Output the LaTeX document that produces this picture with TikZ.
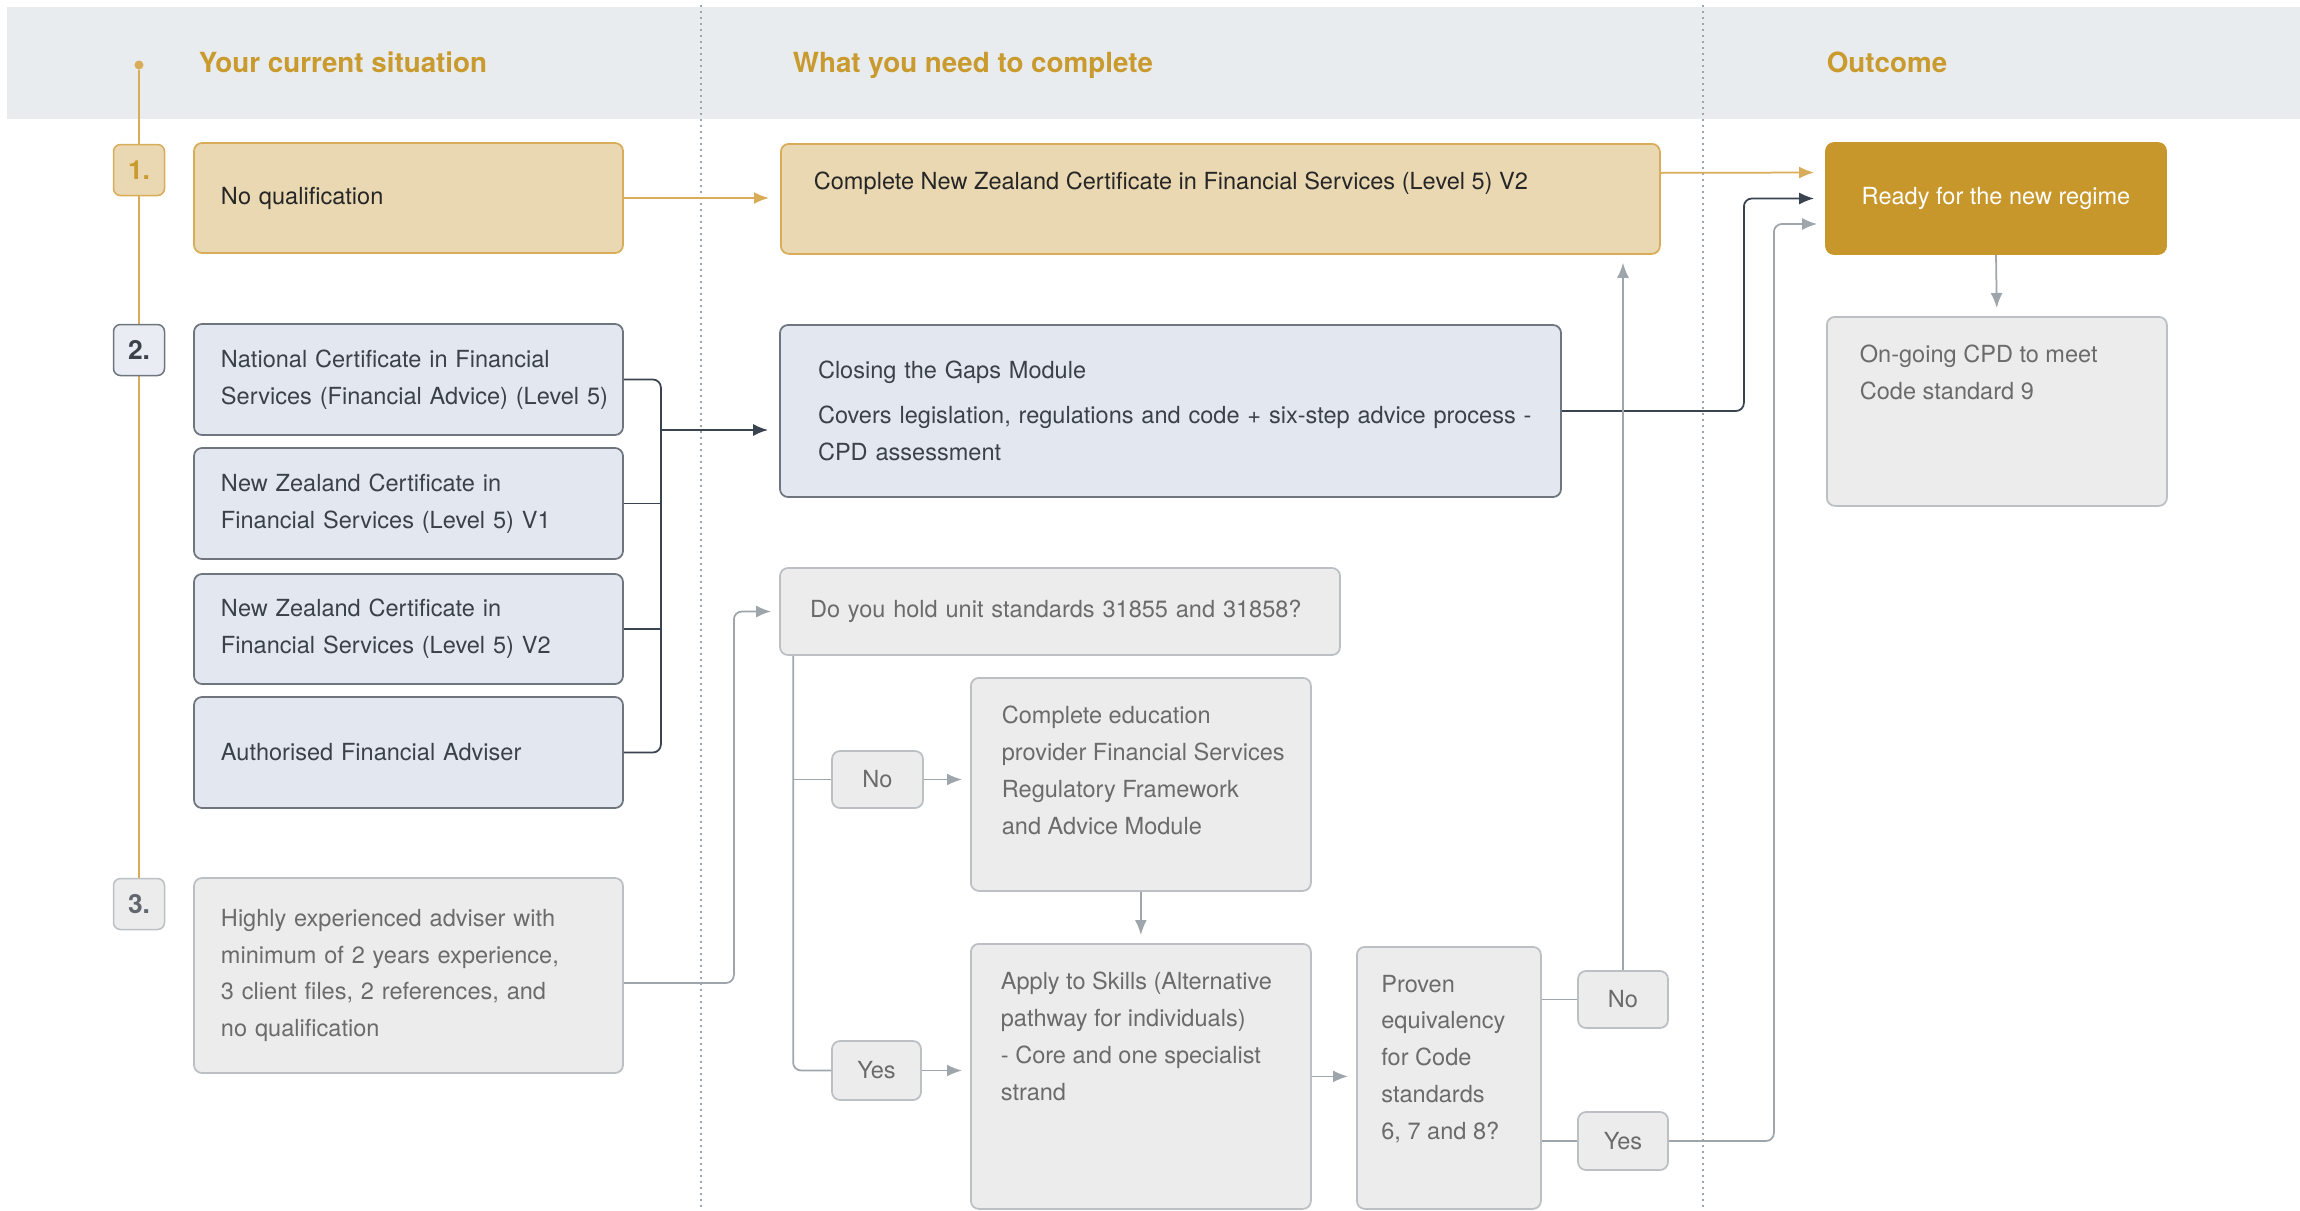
\documentclass[tikz,border=0pt]{standalone}
\usepackage{fontspec}
\setmainfont{TeX Gyre Heros}
\usetikzlibrary{arrows.meta}
\hyphenpenalty=10000

\definecolor{goldtxt}{HTML}{C99A2E}
\definecolor{goldfill}{HTML}{EAD8B2}
\definecolor{goldline}{HTML}{D8AC58}
\definecolor{golddark}{HTML}{C8972C}
\definecolor{bandgrey}{HTML}{E9ECEF}
\definecolor{bluefill}{HTML}{E3E7F0}
\definecolor{blueline}{HTML}{6F757E}
\definecolor{darktxt}{HTML}{3B414A}
\definecolor{greyfill}{HTML}{ECECEC}
\definecolor{greyline}{HTML}{BCBFC3}
\definecolor{greytxt}{HTML}{6B6B6B}
\definecolor{arrowgrey}{HTML}{9EA6AC}
\definecolor{arrowdark}{HTML}{3A4350}

\begin{document}
\begin{tikzpicture}[x=0.2mm, y=-0.2mm, line width=0.35mm,
font=\fontsize{13.4}{21}\selectfont,
box_style/.style={rounded corners=1.6mm, line width=0.35mm, align=left},
gold_box/.style={box_style, draw=goldline, fill=goldfill, text=black!85},
blue_box/.style={box_style, draw=blueline, fill=bluefill, text=darktxt},
grey_box/.style={box_style, draw=greyline, fill=greyfill, text=greytxt},
left_box/.style={text width=75mm, inner xsep=5.4mm, inner ysep=0mm},
top_box/.style={anchor=north west, inner ysep=5.6mm},
small_box/.style={grey_box, align=center, inner sep=0mm, minimum width=18mm, minimum height=11.6mm},
badge_style/.style={rounded corners=1.4mm, line width=0.3mm, minimum width=10.2mm, minimum height=10.2mm, inner sep=0mm, font=\fontsize{15}{15}\selectfont\bfseries},
head_style/.style={anchor=base west, inner sep=0mm, text=goldtxt, font=\fontsize{15.8}{16}\selectfont\bfseries},
arrow_gold/.style={draw=goldline, -{Latex[length=3mm,width=2.4mm]}, shorten >=2.2mm},
arrow_dark/.style={draw=arrowdark, -{Latex[length=3mm,width=2.4mm]}, shorten >=2.2mm},
arrow_grey/.style={draw=arrowgrey, -{Latex[length=3mm,width=2.4mm]}, shorten >=1.6mm},
line_dark/.style={draw=arrowdark},
line_grey/.style={draw=arrowgrey}]

\useasboundingbox (0,0) rectangle (2300,1211);

% header band and column rules
\fill[bandgrey] (7,7) rectangle (2300,119);
\draw[arrowgrey, line width=0.3mm, dash pattern=on 0.3mm off 0.9mm] (701,5) -- (701,1211);
\draw[arrowgrey, line width=0.3mm, dash pattern=on 0.3mm off 0.9mm] (1703,5) -- (1703,1211);

\node[head_style] (h1) at (198,72) {Your current situation};
\node[head_style] (h2) at (792,72) {What you need to complete};
\node[head_style] (h3) at (1826,72) {Outcome};

% timeline
\node[circle, fill=goldline, inner sep=0mm, minimum size=1.8mm] (dot) at (139,65) {};
\node[badge_style] (b3) at (139,904) {};
\draw[goldline, line width=0.3mm] (dot) -- (b3.north);

\node[badge_style, draw=goldline, fill=goldfill, text=goldtxt] (b1) at (139,170) {1.};
\node[badge_style, draw=blueline, fill=bluefill!80!white, text=darktxt] (b2) at (139,350) {2.};
\node[badge_style, draw=greyline, fill=greyfill, text=darktxt!80] at (b3) {3.};

% current situation
\node[gold_box, left_box, minimum height=22mm] (nq) at (408.5,198) {No qualification};
\node[blue_box, left_box, minimum height=22.2mm] (natcert) at (408.5,379.5) {National Certificate in Financial\\\mbox{Services (Financial Advice) (Level 5)}};
\node[blue_box, left_box, minimum height=22.2mm] (nzv1) at (408.5,503.5) {New Zealand Certificate in\\Financial Services (Level 5) V1};
\node[blue_box, left_box, minimum height=22mm] (nzv2) at (408.5,629) {New Zealand Certificate in\\Financial Services (Level 5) V2};
\node[blue_box, left_box, minimum height=22.2mm] (afa) at (408.5,752.5) {Authorised Financial Adviser};
\node[grey_box, left_box, minimum height=39mm] (highly) at (408.5,975.5) {Highly experienced adviser with\\minimum of 2 years experience,\\3 client files, 2 references, and\\no qualification};

% what you need to complete
\node[gold_box, top_box, inner xsep=6.6mm] (cnz) at (780,143) {\parbox[c][10.8mm][t]{162.6mm}{Complete New Zealand Certificate in Financial Services (Level 5) V2}};
\node[blue_box, text width=141mm, inner xsep=7.6mm, inner ysep=0mm, minimum height=34.4mm] (gaps) at (1170.5,411) {Closing the Gaps Module\\[1.6mm]\mbox{Covers legislation, regulations and code + six-step advice process -}\\CPD assessment};
\node[grey_box, text width=100mm, inner xsep=6mm, inner ysep=0mm, minimum height=17.4mm] (quest) at (1060,611.5) {Do you hold unit standards 31855 and 31858?};
\node[small_box, minimum width=18.2mm, minimum height=11.4mm] (no1) at (877.5,779.5) {No};
\node[grey_box, top_box, inner xsep=6.2mm] (edu) at (970,677) {\parbox[c][31.4mm][t]{55.6mm}{Complete education\\\mbox{provider Financial Services}\\Regulatory Framework\\and Advice Module}};
\node[small_box, minimum width=17.8mm, minimum height=11.8mm] (yes1) at (876.5,1070.5) {Yes};
\node[grey_box, top_box, inner xsep=6mm] (apply) at (970,943) {\parbox[c][41.8mm][t]{56mm}{Apply to Skills (Alternative\\pathway for individuals)\\- Core and one specialist\\strand}};
\node[grey_box, top_box, inner xsep=4.9mm] (proven) at (1356,946) {\parbox[c][41.2mm][t]{27mm}{Proven\\equivalency\\for Code\\standards\\6, 7 and 8?}};
\node[small_box, minimum height=11.4mm] (no2) at (1623,999.5) {No};
\node[small_box] (yes2) at (1623,1141) {Yes};

% outcome
\node[box_style, draw=golddark, fill=golddark, text=white, align=center, inner sep=0mm, minimum width=68mm, minimum height=22.2mm] (ready) at (1996,198.5) {Ready for the new regime};
\node[grey_box, top_box, inner xsep=6.6mm] (ongoing) at (1826,316) {\parbox[c][26.6mm][t]{54.8mm}{On-going CPD to meet\\Code standard 9}};

% connectors
\draw[arrow_gold] (nq.east) -- (nq.east -| cnz.west);
\draw[arrow_gold] ([yshift=5.2mm]cnz.east) -- ([yshift=5.2mm]ready.west);

\draw[line_dark, rounded corners=1.6mm] (natcert.east) -- ++(37,0) |- (afa.east);
\draw[line_dark] (nzv1.east) -- ++(37,0);
\draw[line_dark] (nzv2.east) -- ++(37,0);
\coordinate (grp) at (660,430);
\draw[arrow_dark] (grp) -- (grp -| gaps.west);
\draw[arrow_dark, rounded corners=1.6mm] (gaps.east) -- ++(182,0) |- (ready.west);

\draw[arrow_grey, rounded corners=1.6mm] ([yshift=-1.5mm]highly.east) -- ++(110,0) |- (quest.west);
\coordinate (qv) at ([xshift=2.8mm]quest.south west);
\draw[line_grey, rounded corners=1.6mm] (qv) |- (yes1.west);
\draw[line_grey] (qv |- no1.west) -- (no1.west);
\draw[arrow_grey] (no1.east) -- (no1.east -| edu.west);
\draw[arrow_grey] (edu.south) -- (edu.south |- apply.north);
\draw[arrow_grey] (yes1.east) -- (yes1.east -| apply.west);
\draw[arrow_grey] (apply.east) -- (apply.east -| proven.west);
\draw[line_grey] (no2.west -| proven.east) -- (no2.west);
\draw[line_grey] (yes2.west -| proven.east) -- (yes2.west);
\draw[arrow_grey] (no2.north) -- (no2.north |- cnz.south);
\draw[arrow_grey, rounded corners=1.6mm] (yes2.east) -- ++(105,0) |- ([yshift=-5.1mm]ready.west);
\draw[arrow_grey] (ready.south) -- (ongoing.north);

\end{tikzpicture}
\end{document}
